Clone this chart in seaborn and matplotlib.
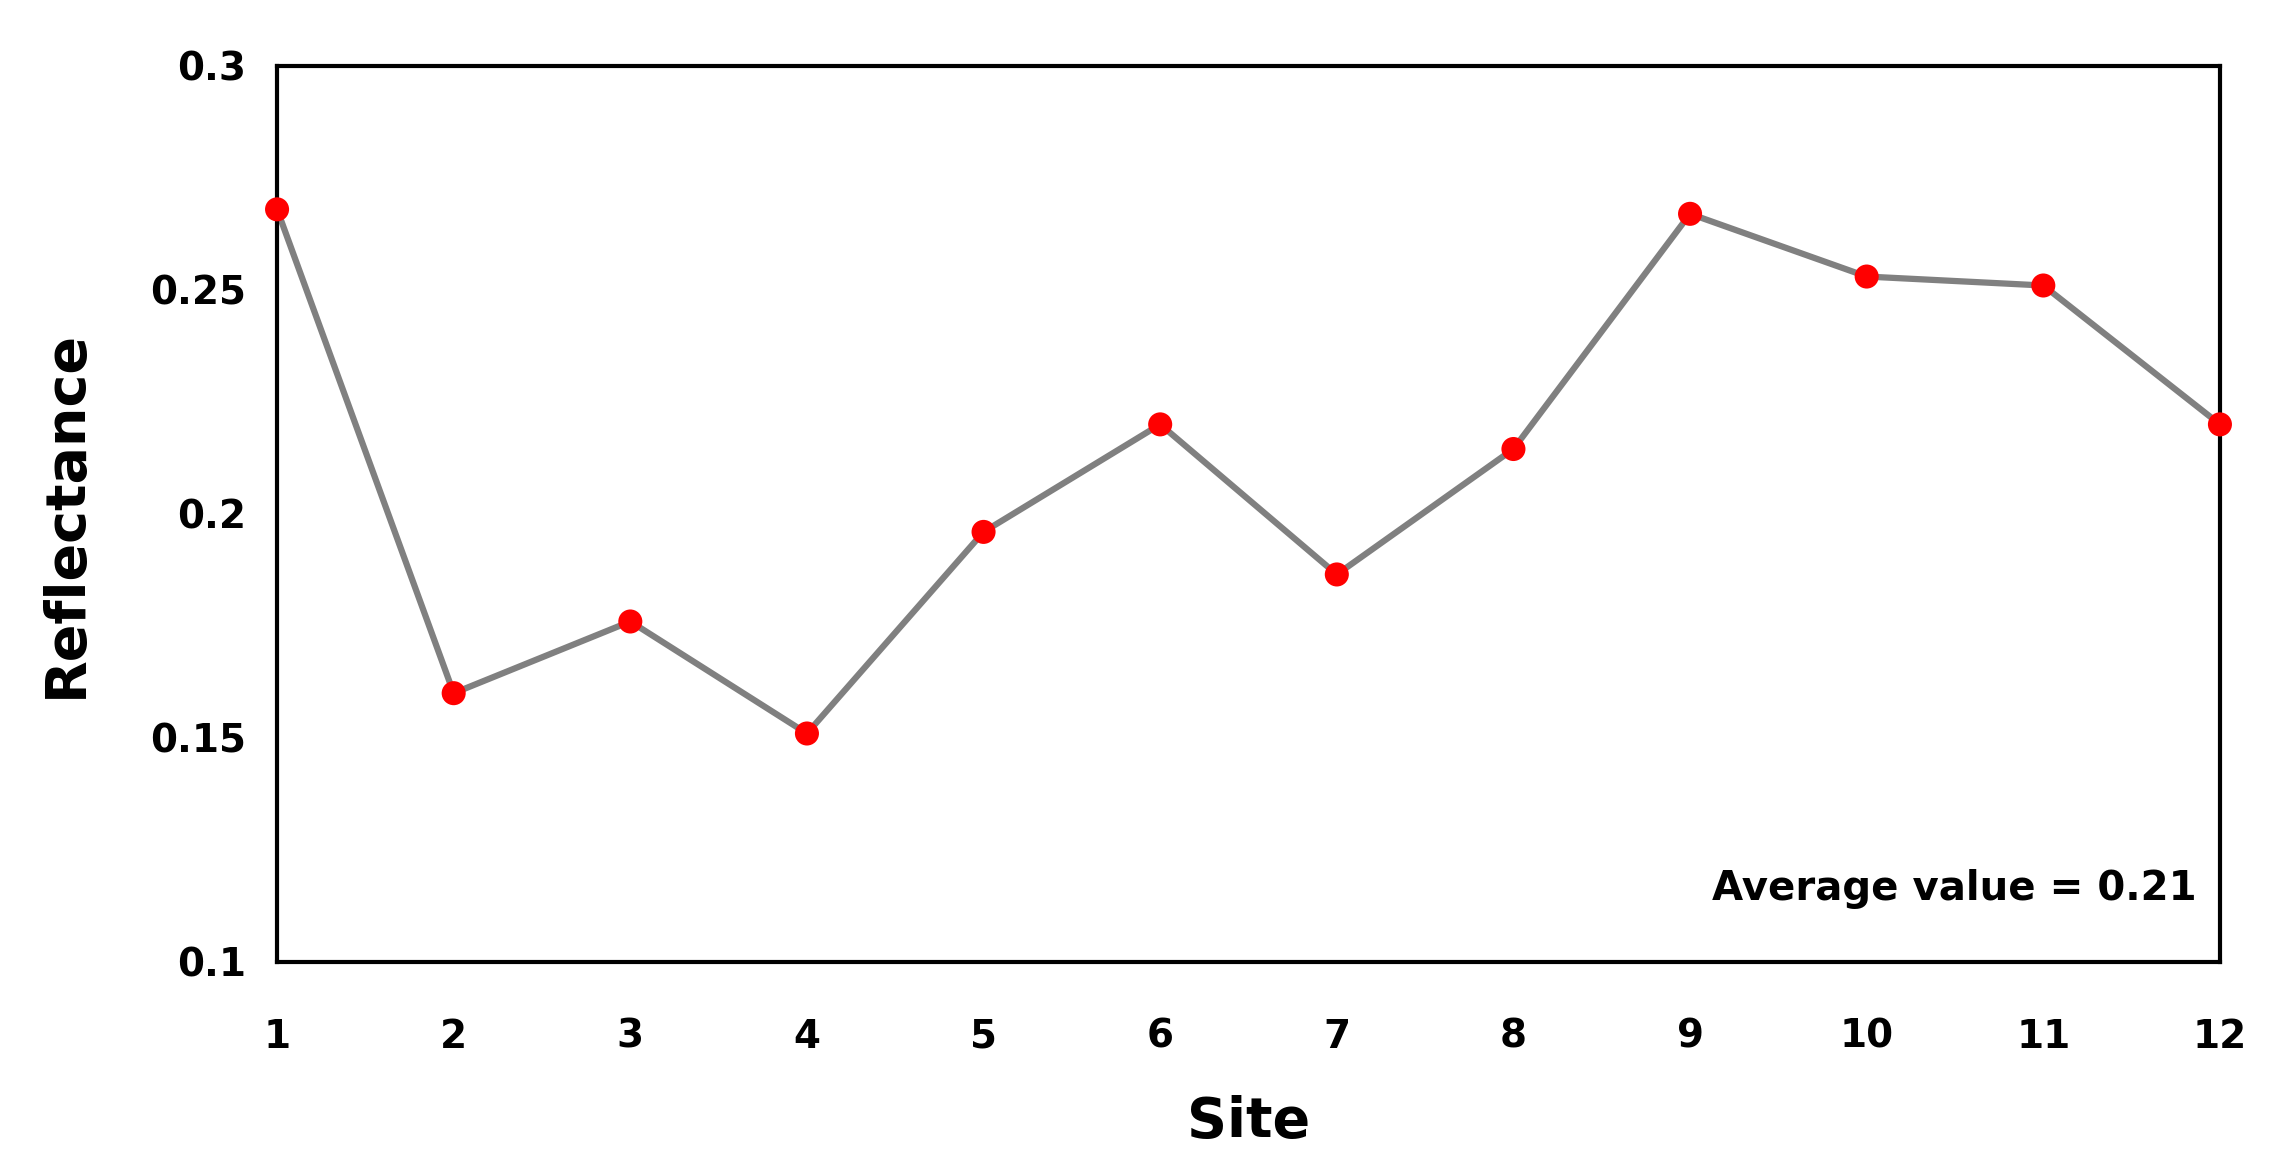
import pandas as pd
import matplotlib
matplotlib.use("Agg")
import matplotlib.pyplot as plt
import seaborn as sns

# Valores
sites = [1, 2, 3, 4, 5, 6, 7, 8, 9, 10, 11, 12]
reflectance = [0.268, 0.160, 0.176, 0.151, 0.196, 0.220,
               0.1865, 0.2145, 0.267, 0.253, 0.251, 0.220]
y_ticks = [0.1, 0.15, 0.2, 0.25, 0.3]
y_tick_labels = ["0.1", "0.15", "0.2", "0.25", "0.3"]
avg_text = "Average value = 0.21"

df = pd.DataFrame({"site": sites, "reflectance": reflectance})

sns.set_style("white")
plt.rcParams['font.family'] = ['DejaVu Sans']
plt.rcParams['text.color'] = 'black'
plt.rcParams['axes.labelcolor'] = 'black'
plt.rcParams['xtick.color'] = 'black'
plt.rcParams['ytick.color'] = 'black'

fig = plt.figure(figsize=(22.86, 11.74), dpi=100)
ax = fig.add_axes([0.1212, 0.1806, 0.8499, 0.7632])

sns.lineplot(data=df, x="site", y="reflectance", color="#808080",
             linewidth=4.5, ax=ax, zorder=2)
sns.scatterplot(data=df, x="site", y="reflectance", color="#ff0000",
                s=300, edgecolor="none", ax=ax, zorder=3, clip_on=False)

ax.set_xlim(1, 12)
ax.set_ylim(0.1, 0.3)
ax.set_xticks(sites)
ax.set_xticklabels([str(s) for s in sites], fontsize=28, fontweight="bold")
ax.set_yticks(y_ticks)
ax.set_yticklabels(y_tick_labels, fontsize=28, fontweight="bold")
ax.tick_params(axis="x", length=0, pad=40)
ax.tick_params(axis="y", length=0, pad=22)

for sp in ax.spines.values():
    sp.set_visible(True)
    sp.set_color("black")
    sp.set_linewidth(3)

ax.set_xlabel("Site", fontsize=40, fontweight="bold")
ax.set_ylabel("Reflectance", fontsize=40, fontweight="bold")
ax.xaxis.set_label_coords(0.5, -0.148)
ax.yaxis.set_label_coords(-0.095, 0.5)

ax.text(0.988, 0.081, avg_text, transform=ax.transAxes, ha="right",
        va="center", fontsize=29, fontweight="bold")

fig.savefig("out.png", dpi=100, facecolor="white")
plt.close(fig)
